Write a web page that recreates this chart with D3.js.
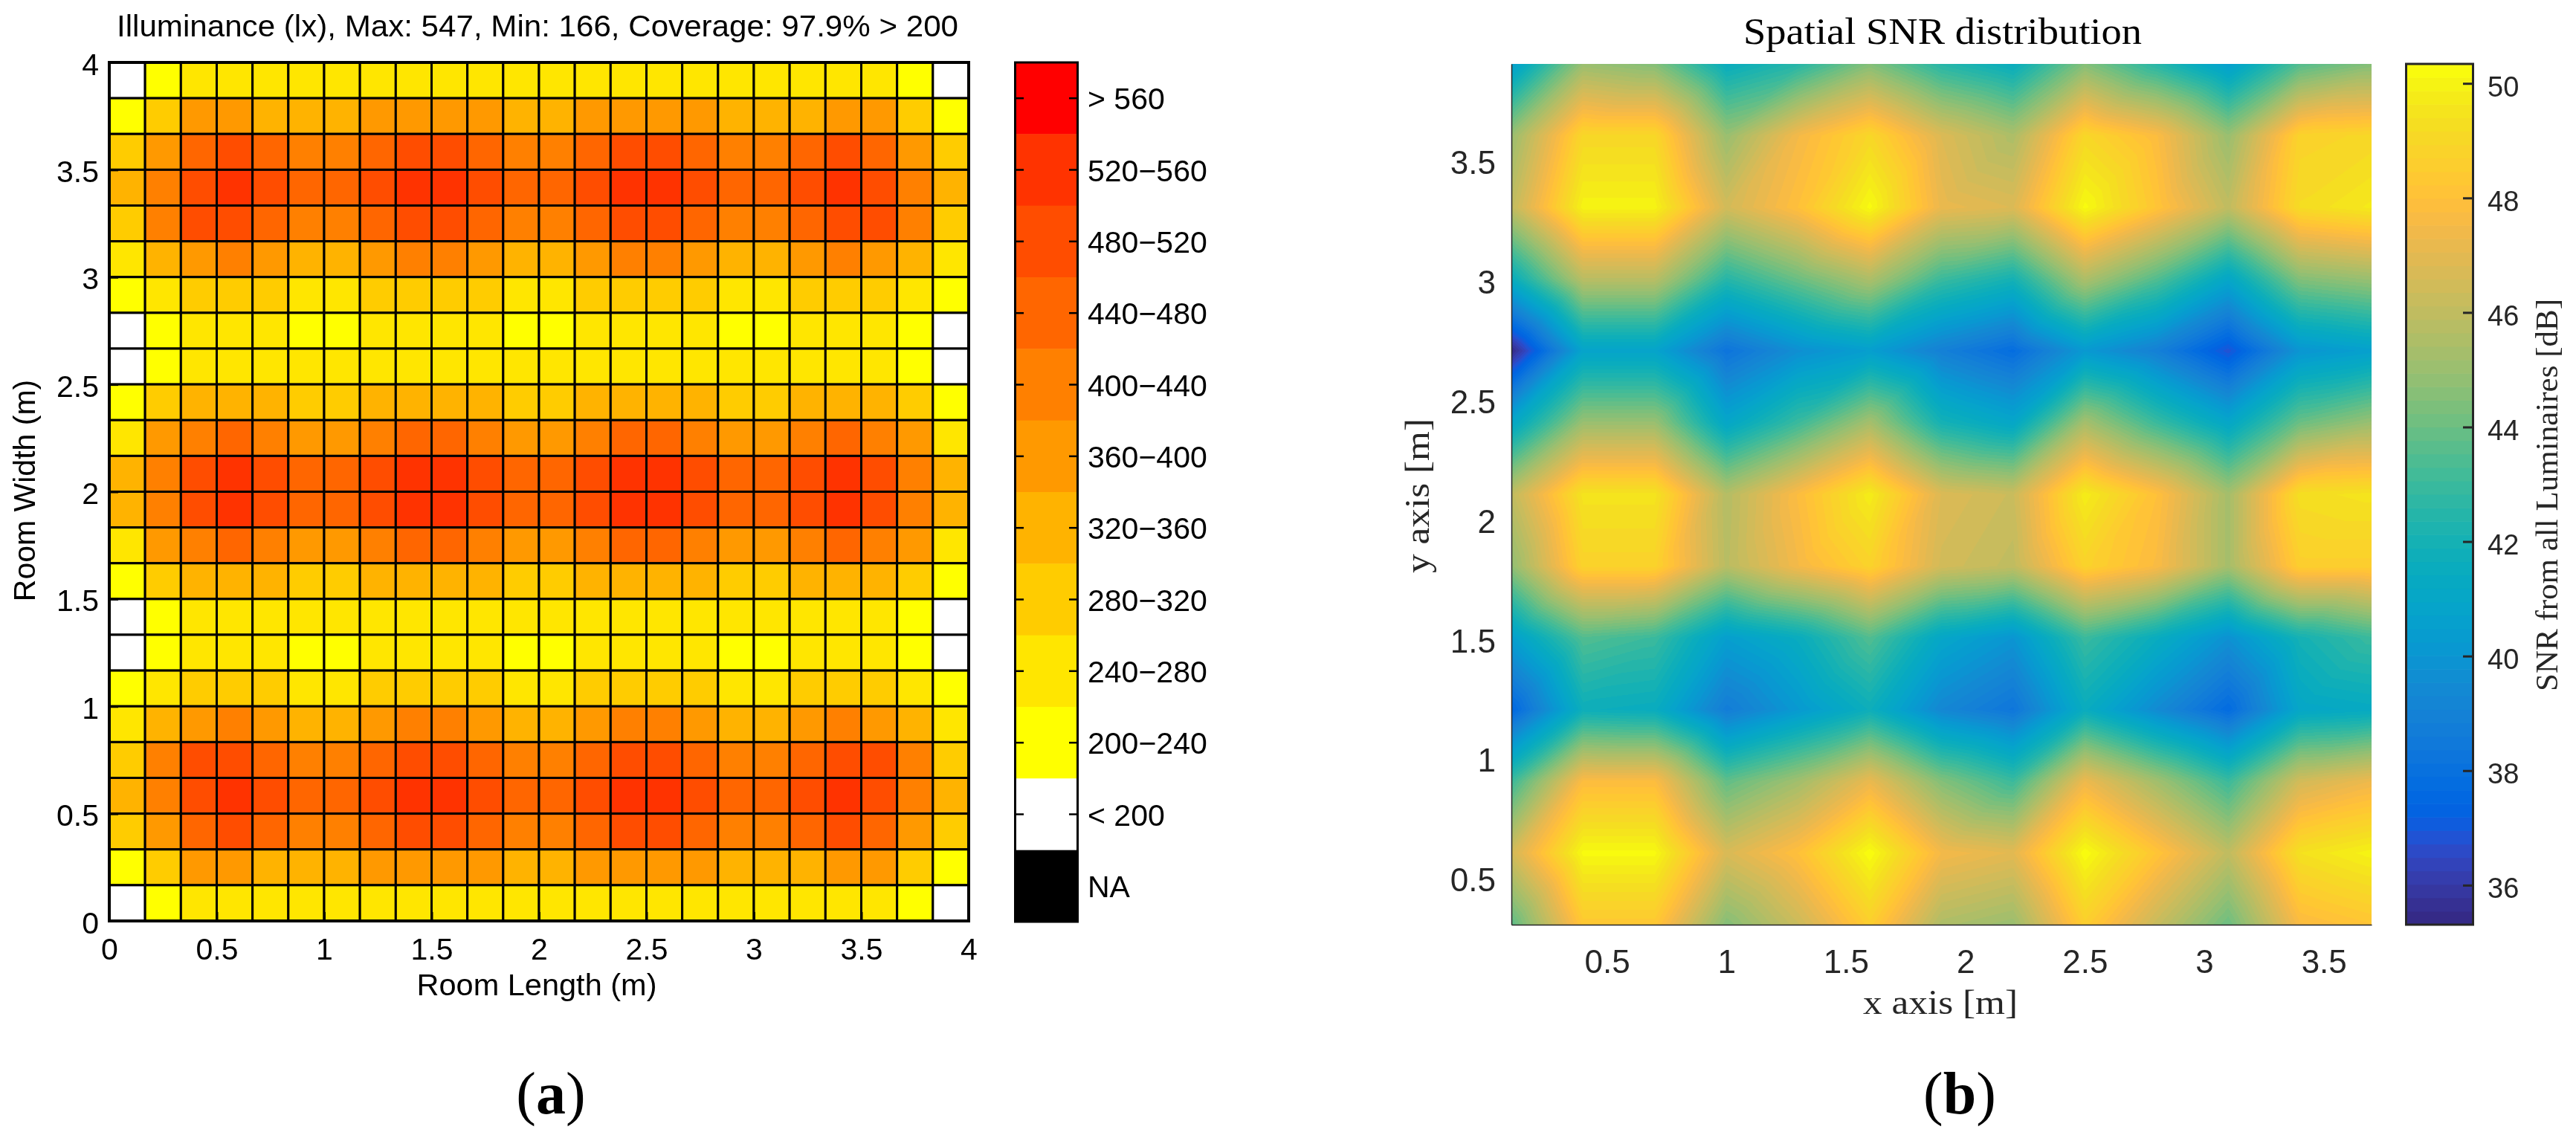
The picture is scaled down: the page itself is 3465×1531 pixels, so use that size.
<!DOCTYPE html>
<html><head><meta charset="utf-8">
<script src="https://cdnjs.cloudflare.com/ajax/libs/d3/7.8.5/d3.min.js"></script>
<style>
html,body{margin:0;padding:0;background:#fff;width:3465px;height:1531px;overflow:hidden}
svg,canvas{position:absolute;left:0;top:0}
.sans{font-family:"Liberation Sans",Arial,sans-serif}
.serif{font-family:"Liberation Serif",serif}
</style></head><body>
<script>
// ---------- panel (a) data ----------
const illuminanceRows = [
[180,220,260,260,260,260,260,260,260,260,260,260,260,260,260,260,260,260,260,260,260,260,220,180],
[220,300,380,380,340,340,340,380,380,380,380,340,340,380,380,380,380,340,340,340,380,380,300,220],
[300,380,460,500,460,420,420,460,500,500,460,420,420,460,500,500,460,420,420,460,500,460,380,300],
[340,420,500,540,500,460,460,500,540,540,500,460,460,500,540,540,500,460,460,500,540,500,420,340],
[300,420,500,500,460,420,420,460,500,500,460,420,420,460,500,500,460,420,420,460,500,500,420,300],
[260,340,380,420,380,340,340,380,420,420,380,340,340,380,420,420,380,340,340,380,420,380,340,260],
[220,260,300,300,300,260,260,300,300,300,300,260,260,300,300,300,300,260,260,300,300,300,260,220],
[180,220,260,260,260,220,220,260,260,260,260,220,220,260,260,260,260,220,220,260,260,260,220,180],
[180,220,260,260,260,260,260,260,260,260,260,260,260,260,260,260,260,260,260,260,260,260,220,180],
[220,300,340,340,340,300,300,340,340,340,340,300,300,340,340,340,340,300,300,340,340,340,300,220],
[260,380,420,460,420,380,380,420,460,460,420,380,380,420,460,460,420,380,380,420,460,420,380,260],
[340,420,500,540,500,460,460,500,540,540,500,460,460,500,540,540,500,460,460,500,540,500,420,340],
[340,420,500,540,500,460,460,500,540,540,500,460,460,500,540,540,500,460,460,500,540,500,420,340],
[260,380,420,460,420,380,380,420,460,460,420,380,380,420,460,460,420,380,380,420,460,420,380,260],
[220,300,340,340,340,300,300,340,340,340,340,300,300,340,340,340,340,300,300,340,340,340,300,220],
[180,220,260,260,260,260,260,260,260,260,260,260,260,260,260,260,260,260,260,260,260,260,220,180],
[180,220,260,260,260,220,220,260,260,260,260,220,220,260,260,260,260,220,220,260,260,260,220,180],
[220,260,300,300,300,260,260,300,300,300,300,260,260,300,300,300,300,260,260,300,300,300,260,220],
[260,340,380,420,380,340,340,380,420,420,380,340,340,380,420,420,380,340,340,380,420,380,340,260],
[300,420,500,500,460,420,420,460,500,500,460,420,420,460,500,500,460,420,420,460,500,500,420,300],
[340,420,500,540,500,460,460,500,540,540,500,460,460,500,540,540,500,460,460,500,540,500,420,340],
[300,380,460,500,460,420,420,460,500,500,460,420,420,460,500,500,460,420,420,460,500,460,380,300],
[220,300,380,380,340,340,340,380,380,380,380,340,340,380,380,380,380,340,340,340,380,380,300,220],
[180,220,260,260,260,260,260,260,260,260,260,260,260,260,260,260,260,260,260,260,260,260,220,180]
];
const luxThresholds = [200,240,280,320,360,400,440,480,520,560];
const luxColors = ["#ffffff","#ffff00","#ffe600","#ffcc00","#ffb300","#ff9900","#ff8000","#ff6600","#ff4d00","#ff3300","#ff0000"];
const legendLabels = ["> 560","520\u2212560","480\u2212520","440\u2212480","400\u2212440","360\u2212400","320\u2212360","280\u2212320","240\u2212280","200\u2212240","< 200","NA"];
const legendColors = ["#ff0000","#ff3300","#ff4d00","#ff6600","#ff8000","#ff9900","#ffb300","#ffcc00","#ffe600","#ffff00","#ffffff","#000000"];
const roomTicks = [0,0.5,1,1.5,2,2.5,3,3.5,4];
const titleA = "Illuminance (lx), Max: 547, Min: 166, Coverage: 97.9% > 200";

// ---------- panel (b) data ----------
const snrX = [0.1,0.4,0.7,1.0,1.3,1.6,1.9,2.2,2.5,2.8,3.1,3.4,3.7];
const snrY = [3.9,3.6,3.3,3.0,2.7,2.4,2.1,1.8,1.5,1.2,0.9,0.6,0.3];
const snrRows = [
[40.5,45.0,44.5,41.5,42.5,44.5,42.5,41.5,44.5,42.5,40.5,43.5,44.5],
[45.0,49.0,49.0,45.0,47.5,49.0,46.8,45.5,49.0,47.8,45.0,48.8,49.0],
[46.0,50.0,50.0,46.5,48.0,50.2,47.2,46.8,50.2,48.2,46.0,49.2,49.7],
[41.5,45.8,45.8,42.5,44.0,45.5,43.0,42.0,45.5,43.5,41.0,44.5,45.0],
[35.4,40.8,40.8,38.2,39.7,40.5,38.9,37.8,40.2,38.9,36.8,40.0,40.6],
[41.0,45.0,45.0,41.0,43.0,45.3,42.0,41.0,45.3,43.0,41.0,44.0,45.0],
[46.0,49.5,49.5,45.7,47.8,49.8,46.8,46.3,49.8,48.0,45.3,49.3,49.5],
[44.8,48.8,48.8,45.8,47.5,48.8,46.5,46.0,48.8,47.7,45.3,48.6,48.6],
[40.5,43.5,43.0,40.5,41.5,43.5,41.0,40.0,43.0,41.5,39.8,42.0,43.0],
[37.5,41.7,41.5,38.7,40.2,41.7,39.3,38.3,41.5,39.5,37.7,41.0,41.3],
[43.0,47.8,47.8,43.8,45.2,47.2,44.5,43.0,47.3,45.2,43.0,46.5,47.3],
[46.5,50.2,50.2,46.7,48.0,50.3,47.5,47.0,50.3,48.2,46.0,49.4,50.0],
[43.7,48.3,48.3,44.5,46.3,48.6,45.5,45.0,48.6,46.2,44.0,47.7,48.2]
];
const snrExtent = [35.31,50.34];
const snrAxisXTicks = [0.5,1,1.5,2,2.5,3,3.5];
const snrAxisYTicks = [0.5,1,1.5,2,2.5,3,3.5];
const snrBarTicks = [36,38,40,42,44,46,48,50];
const parula = [
[.2081,.1663,.5292],[.2116,.1898,.5777],[.2123,.2138,.6270],[.2081,.2386,.6771],[.1959,.2645,.7279],[.1707,.2919,.7792],[.1253,.3242,.8303],[.0591,.3598,.8683],
[.0117,.3875,.8820],[.0060,.4086,.8828],[.0165,.4266,.8786],[.0329,.4430,.8720],[.0498,.4586,.8641],[.0629,.4737,.8554],[.0723,.4887,.8467],[.0779,.5040,.8384],
[.0793,.5200,.8312],[.0749,.5375,.8263],[.0641,.5570,.8240],[.0488,.5772,.8228],[.0343,.5966,.8199],[.0265,.6137,.8135],[.0239,.6287,.8038],[.0231,.6418,.7913],
[.0228,.6535,.7768],[.0267,.6642,.7607],[.0384,.6743,.7436],[.0590,.6838,.7254],[.0843,.6928,.7062],[.1133,.7015,.6859],[.1453,.7098,.6646],[.1801,.7177,.6424],
[.2178,.7250,.6193],[.2586,.7317,.5954],[.3022,.7376,.5712],[.3482,.7424,.5473],[.3953,.7459,.5244],[.4420,.7481,.5033],[.4871,.7491,.4840],[.5300,.7491,.4661],
[.5709,.7485,.4494],[.6099,.7473,.4337],[.6473,.7456,.4188],[.6834,.7435,.4044],[.7184,.7411,.3905],[.7525,.7384,.3768],[.7858,.7356,.3633],[.8185,.7327,.3498],
[.8507,.7299,.3360],[.8824,.7274,.3217],[.9139,.7258,.3063],[.9450,.7261,.2886],[.9739,.7314,.2666],[.9938,.7455,.2403],[.9990,.7653,.2164],[.9955,.7861,.1967],
[.9880,.8066,.1794],[.9789,.8271,.1633],[.9697,.8481,.1475],[.9626,.8705,.1309],[.9589,.8949,.1132],[.9598,.9218,.0948],[.9661,.9514,.0755],[.9763,.9831,.0538]
].map(c => c.map(v => Math.round(v*255)));
const parulaCss = parula.map(c => `rgb(${c[0]},${c[1]},${c[2]})`);

// ---------- layout ----------
const W = 3465, H = 1531;
const dark = "#262626";

// canvas for the interpolated SNR surface
const xB = d3.scaleLinear().domain([0.1,3.7]).range([2033,3190]);
const yB = d3.scaleLinear().domain([0.3,3.9]).range([1244,86]);
const colorB = d3.scaleQuantize().domain(snrExtent).range(d3.range(64));
const cv = d3.select("body").append("canvas").attr("width",W).attr("height",H).node();
const ctx = cv.getContext("2d");
const px0 = Math.round(xB.range()[0]), px1 = Math.round(xB.range()[1]);
const py0 = Math.round(yB.range()[1]), py1 = Math.round(yB.range()[0]);
const img = ctx.createImageData(px1-px0, py1-py0);
const dx = snrX[1]-snrX[0], dy = snrY[0]-snrY[1];
for (let py=py0; py<py1; py++) {
  const yv = yB.invert(py+0.5);
  let r = Math.min(snrY.length-2, Math.max(0, Math.floor((snrY[0]-yv)/dy)));
  const t = (snrY[r]-yv)/dy;
  for (let px=px0; px<px1; px++) {
    const xv = xB.invert(px+0.5);
    let c = Math.min(snrX.length-2, Math.max(0, Math.floor((xv-snrX[0])/dx)));
    const s = (xv-snrX[c])/dx;
    const a = snrRows[r][c], b = snrRows[r][c+1], d = snrRows[r+1][c], e = snrRows[r+1][c+1];
    // two triangles per grid quad, split along one diagonal
    let v;
    if (s + t <= 1) v = a + s*(b-a) + t*(d-a);
    else v = e + (1-s)*(d-e) + (1-t)*(b-e);
    const q = parula[colorB(v)];
    const i = ((py-py0)*(px1-px0)+(px-px0))*4;
    img.data[i]=q[0]; img.data[i+1]=q[1]; img.data[i+2]=q[2]; img.data[i+3]=255;
  }
}
ctx.putImageData(img,px0,py0);

const svg = d3.select("body").append("svg").attr("width",W).attr("height",H);

// ---------- panel (a) ----------
const xA = d3.scaleLinear().domain([0,4]).range([147,1303]);
const yA = d3.scaleLinear().domain([0,4]).range([1239,84]);
const colorA = d3.scaleThreshold().domain(luxThresholds).range(luxColors);
const gA = svg.append("g").attr("class","sans");
const cellStep = 4/illuminanceRows.length;
gA.append("g").selectAll("g").data(illuminanceRows).join("g").each(function(row,r){
  d3.select(this).selectAll("rect").data(row).join("rect")
    .attr("x",(d,c)=>xA(c*cellStep))
    .attr("y",yA(4-r*cellStep))
    .attr("width",xA(cellStep)-xA(0))
    .attr("height",yA(0)-yA(cellStep))
    .attr("fill",d=>colorA(d))
    .attr("stroke","#000").attr("stroke-width",3);
});
gA.append("rect").attr("x",xA(0)).attr("y",yA(4)).attr("width",xA(4)-xA(0)).attr("height",yA(0)-yA(4))
  .attr("fill","none").attr("stroke","#000").attr("stroke-width",4);
const fmt = d => String(d);
const axA1 = gA.append("g").attr("transform",`translate(0,${yA(0)})`)
  .call(d3.axisBottom(xA).tickValues(roomTicks).tickFormat(fmt).tickSizeInner(-12).tickSizeOuter(0).tickPadding(52));
const axA2 = gA.append("g").attr("transform",`translate(${xA(0)},0)`)
  .call(d3.axisLeft(yA).tickValues(roomTicks).tickFormat(fmt).tickSizeInner(-12).tickSizeOuter(0).tickPadding(14));
[axA1,axA2].forEach(a=>{
  a.select(".domain").attr("stroke","none");
  a.selectAll("line").attr("stroke","#000").attr("stroke-width",3);
  a.selectAll("text").attr("font-family",null).attr("font-size",41).attr("fill","#000").attr("dy",0);
});
axA2.selectAll("text").attr("dy",16);
gA.append("text").attr("x",157).attr("y",49).attr("font-size",41)
  .attr("textLength",1132).attr("lengthAdjust","spacingAndGlyphs").text(titleA);
gA.append("text").attr("x",722).attr("y",1339).attr("text-anchor","middle").attr("font-size",41.5).text("Room Length (m)");
gA.append("text").attr("transform","translate(47,660) rotate(-90)").attr("text-anchor","middle").attr("font-size",41).text("Room Width (m)");

// legend
const yL = d3.scaleBand().domain(legendLabels).range([84,1240]);
const gL = svg.append("g").attr("class","sans");
gL.selectAll("rect").data(legendLabels).join("rect")
  .attr("x",1365.5).attr("width",84).attr("y",d=>yL(d)).attr("height",yL.bandwidth()+0.5)
  .attr("fill",(d,i)=>legendColors[i]);
gL.append("rect").attr("x",1365.5).attr("y",84).attr("width",84).attr("height",1156)
  .attr("fill","none").attr("stroke","#000").attr("stroke-width",3);
const tickLabels = legendLabels.filter(d=>d!=="NA");
gL.selectAll(".tl").data(tickLabels).join("line").attr("class","tl")
  .attr("x1",1367).attr("x2",1377).attr("y1",d=>yL(d)+yL.bandwidth()/2).attr("y2",d=>yL(d)+yL.bandwidth()/2)
  .attr("stroke","#000").attr("stroke-width",2.5);
gL.selectAll(".tr").data(tickLabels).join("line").attr("class","tr")
  .attr("x1",1438).attr("x2",1448).attr("y1",d=>yL(d)+yL.bandwidth()/2).attr("y2",d=>yL(d)+yL.bandwidth()/2)
  .attr("stroke","#000").attr("stroke-width",2.5);
gL.selectAll("text").data(legendLabels).join("text")
  .attr("x",1463).attr("y",d=>yL(d)+yL.bandwidth()/2+15).attr("font-size",41).text(d=>d);

// ---------- panel (b) ----------
const gB = svg.append("g");
const axB1 = gB.append("g").attr("class","sans").attr("transform",`translate(0,${yB(0.3)})`)
  .call(d3.axisBottom(xB).tickValues(snrAxisXTicks).tickFormat(fmt).tickSize(0).tickPadding(65));
const axB2 = gB.append("g").attr("class","sans").attr("transform",`translate(${xB(0.1)},0)`)
  .call(d3.axisLeft(yB).tickValues(snrAxisYTicks).tickFormat(fmt).tickSize(0).tickPadding(21));
[axB1,axB2].forEach(a=>{
  a.select(".domain").attr("stroke",dark).attr("stroke-width",1.5);
  a.selectAll("text").attr("font-family",null).attr("font-size",44).attr("fill",dark).attr("dy",0);
});
axB2.selectAll("text").attr("dy",19);
const ttl = (sel,len)=>sel.attr("textLength",len).attr("lengthAdjust","spacingAndGlyphs");
ttl(gB.append("text").attr("class","serif").attr("x",2613).attr("y",59).attr("text-anchor","middle").attr("font-size",51).attr("fill","#000").text("Spatial SNR distribution"),536);
ttl(gB.append("text").attr("class","serif").attr("x",2610).attr("y",1364).attr("text-anchor","middle").attr("font-size",47).attr("fill",dark).text("x axis [m]"),208);
ttl(gB.append("text").attr("class","serif").attr("transform","translate(1922,667) rotate(-90)").attr("text-anchor","middle").attr("font-size",47).attr("fill",dark).text("y axis [m]"),208);

// colour bar
const yBar = d3.scaleLinear().domain(snrExtent).range([1244,86]);
const barStep = (snrExtent[1]-snrExtent[0])/64;
const gC = svg.append("g").attr("class","sans");
gC.selectAll("rect").data(parulaCss).join("rect")
  .attr("x",3236.5).attr("width",90)
  .attr("y",(d,i)=>yBar(snrExtent[0]+(i+1)*barStep))
  .attr("height",yBar(0)-yBar(barStep)+0.6)
  .attr("fill",d=>d);
gC.append("rect").attr("x",3236.5).attr("y",86).attr("width",90).attr("height",1158)
  .attr("fill","none").attr("stroke",dark).attr("stroke-width",3);
const axC = gC.append("g").attr("transform","translate(3327,0)")
  .call(d3.axisRight(yBar).tickValues(snrBarTicks).tickFormat(fmt).tickSizeInner(-14).tickSizeOuter(0).tickPadding(19));
axC.select(".domain").attr("stroke","none");
axC.selectAll("line").attr("stroke",dark).attr("stroke-width",3);
axC.selectAll("text").attr("font-family",null).attr("font-size",38).attr("fill",dark).attr("dy",17);
ttl(svg.append("text").attr("class","serif").attr("transform","translate(3440,666) rotate(-90)").attr("text-anchor","middle").attr("font-size",42).attr("fill",dark).text("SNR from all Luminaires [dB]"),528);

// ---------- captions ----------
const cap = (x,y,letter)=>{
  const t = svg.append("text").attr("class","serif").attr("x",x).attr("y",y).attr("text-anchor","middle").attr("font-size",80).attr("fill","#000");
  t.append("tspan").text("(");
  t.append("tspan").attr("font-weight","bold").text(letter);
  t.append("tspan").text(")");
};
cap(741,1498,"a");
cap(2636,1498,"b");
</script>
</body></html>
